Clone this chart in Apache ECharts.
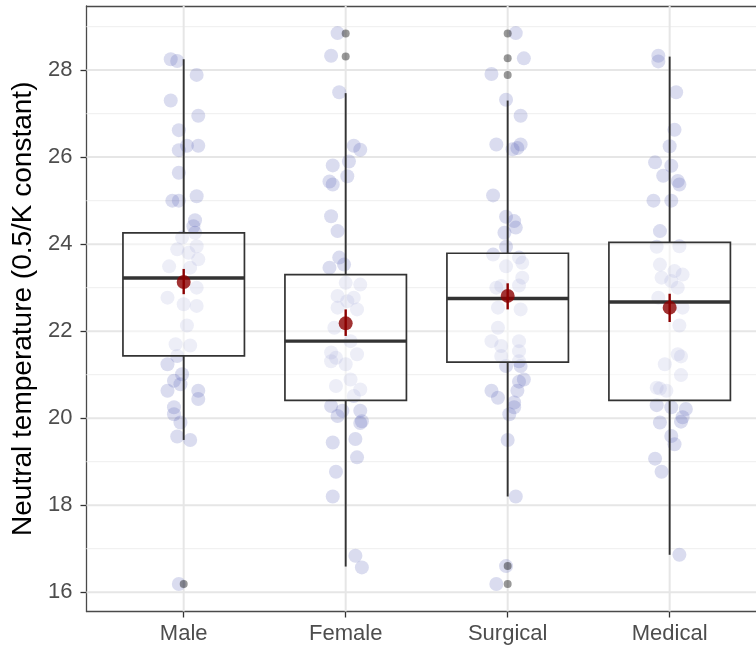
<!DOCTYPE html>
<html>
<head>
<meta charset="utf-8">
<title>Neutral temperature by group</title>
<script src="https://cdn.jsdelivr.net/npm/echarts@6/dist/echarts.min.js"></script>
<style>
  html, body { margin: 0; padding: 0; background: #ffffff; }
  #chart { width: 756px; height: 652px; }
</style>
</head>
<body>
<div id="chart"></div>
<script>
// Groups along the x axis
const categories = ['Male', 'Female', 'Surgical', 'Medical'];
const yTicks = [16, 18, 20, 22, 24, 26, 28];
const yMinorTicks = [17, 19, 21, 23, 25, 27, 29];

// Box-and-whisker summaries per group
const whiskerLow  = [19.50, 16.59, 18.20, 16.86];
const q1          = [21.43, 20.41, 21.29, 20.41];
const medians     = [23.22, 21.77, 22.75, 22.67];
const q3          = [24.26, 23.30, 23.79, 24.04];
const whiskerHigh = [28.25, 27.47, 27.30, 28.31];

// Group means with their error bars
const means    = [23.13, 22.18, 22.81, 22.54];
const meanLow  = [22.85, 21.89, 22.50, 22.21];
const meanHigh = [23.43, 22.50, 23.10, 22.86];

// Points beyond the whiskers: [group index, value]
const outliers = [
  [0, 16.19],
  [1, 28.31], [1, 28.84],
  [2, 28.84], [2, 28.27], [2, 27.89], [2, 16.60], [2, 16.19]
];

// Individual observations and their horizontal jitter (in group units)
const maleValues = [28.25, 28.21, 27.89, 27.30, 26.95, 26.62, 26.26, 26.26, 26.16, 25.64, 25.00, 25.00, 25.10,
  24.55, 24.41, 24.26, 24.15, 23.95, 23.88, 23.80, 23.65, 23.49, 23.46, 23.00, 22.77, 22.62, 22.58, 22.13,
  21.70, 21.67, 21.43, 21.24, 21.01, 20.86, 20.78, 20.63, 20.63, 20.44, 20.25, 20.09, 19.90, 19.58, 19.50, 16.19];
const maleJitter = [-0.08, -0.04, 0.08, -0.08, 0.09, -0.03, 0.02, 0.09, -0.03, -0.03, -0.07, -0.03, 0.08,
  0.07, 0.06, 0.07, -0.01, 0.08, -0.04, 0.03, 0.09, -0.09, 0.04, 0.08, -0.10, 0.00, 0.08, 0.02,
  -0.05, 0.04, -0.04, -0.10, -0.01, -0.06, -0.02, -0.10, 0.09, 0.09, -0.06, -0.06, -0.02, -0.04, 0.04, -0.03];

const femaleValues = [28.85, 28.33, 27.49, 26.26, 26.17, 25.90, 25.81, 25.56, 25.44, 25.37, 24.64, 24.30,
  23.69, 23.53, 23.46, 23.11, 23.07, 22.81, 22.77, 22.69, 22.54, 22.50, 22.08, 21.77, 21.51, 21.47, 21.39,
  21.31, 21.24, 20.89, 20.74, 20.66, 20.51, 20.28, 20.17, 20.17, 20.05, 19.93, 19.89, 19.52, 19.44, 19.10,
  18.77, 18.20, 16.84, 16.57];
const femaleJitter = [-0.05, -0.09, -0.04, 0.05, 0.09, 0.02, -0.08, 0.01, -0.10, -0.08, -0.09, -0.05,
  -0.04, -0.01, -0.10, 0.00, 0.09, -0.05, 0.05, 0.01, -0.05, 0.07, -0.07, 0.03, -0.09, 0.07, -0.06,
  -0.09, 0.00, 0.03, -0.06, 0.09, 0.05, -0.09, -0.02, 0.09, -0.05, 0.10, 0.09, 0.06, -0.08, 0.07,
  -0.06, -0.08, 0.06, 0.10];

const surgicalValues = [28.85, 28.27, 27.91, 27.32, 26.95, 26.29, 26.29, 26.21, 26.18, 25.12, 24.63, 24.53,
  24.38, 24.26, 23.94, 23.76, 23.69, 23.57, 23.49, 23.23, 23.04, 23.05, 23.00, 22.54, 22.50, 22.08, 21.77,
  21.77, 21.66, 21.54, 21.43, 21.31, 21.20, 21.20, 20.89, 20.84, 20.63, 20.63, 20.47, 20.36, 20.25, 20.09,
  19.50, 18.20, 16.60, 16.19];
const surgicalJitter = [0.05, 0.10, -0.10, -0.01, 0.08, -0.07, 0.08, 0.06, 0.03, -0.09, -0.01, 0.04,
  0.05, -0.02, -0.01, -0.09, 0.07, 0.09, -0.01, 0.09, -0.04, 0.07, -0.07, -0.06, 0.08, -0.06, -0.10,
  0.07, -0.04, 0.07, -0.04, 0.07, -0.01, 0.08, 0.10, 0.07, -0.10, 0.06, -0.06, 0.04, 0.04, 0.01,
  0.00, 0.05, -0.01, -0.07];

const medicalValues = [28.33, 28.20, 27.49, 26.63, 26.25, 25.88, 25.80, 25.57, 25.45, 25.37, 25.00, 25.00,
  24.30, 23.94, 23.95, 23.53, 23.38, 23.30, 23.23, 23.15, 23.00, 22.77, 22.54, 22.13, 21.47, 21.42, 21.24,
  20.99, 20.70, 20.68, 20.63, 20.30, 20.25, 20.21, 20.02, 19.92, 19.90, 19.59, 19.40, 19.07, 18.77, 16.86];
const medicalJitter = [-0.07, -0.07, 0.04, 0.03, 0.00, -0.09, 0.01, -0.04, 0.05, 0.06, -0.10, 0.01,
  -0.06, -0.08, 0.06, -0.06, 0.03, 0.08, -0.05, 0.01, 0.05, -0.07, 0.08, 0.06, 0.05, 0.07, -0.03,
  0.07, -0.08, -0.06, -0.02, -0.08, 0.01, 0.10, 0.08, 0.07, -0.06, 0.01, 0.03, -0.09, -0.05, 0.06];

// ---- build series data ----
const groupValues = [maleValues, femaleValues, surgicalValues, medicalValues];
const groupJitter = [maleJitter, femaleJitter, surgicalJitter, medicalJitter];
const jitterPoints = [];
groupValues.forEach((vals, g) => {
  vals.forEach((v, k) => jitterPoints.push([g + 1 + groupJitter[g][k], v]));
});
const boxData = categories.map((c, i) => [i + 1, whiskerLow[i], q1[i], medians[i], q3[i], whiskerHigh[i]]);
const meanData = categories.map((c, i) => [i + 1, means[i]]);
const errData = categories.map((c, i) => [i + 1, meanLow[i], meanHigh[i]]);
const outlierData = outliers.map(o => [o[0] + 1, o[1]]);

// grid lines: [x, y, vertical?, major?]
const gridLines = [
  ...yMinorTicks.map(v => [1, v, 0, 0]),
  ...yTicks.map(v => [1, v, 0, 1]),
  ...categories.map((c, i) => [i + 1, 22, 1, 1])
];

const X_MIN = 0.4, X_MAX = 4.533;
const BOX_HALF = 0.375;
const FONT = '"Liberation Sans", Arial, Helvetica, sans-serif';
const INK = '#333333';
const FRAME = { color: '#4a4a4a', width: 1.3 };

const chart = echarts.init(document.getElementById('chart'), null, { renderer: 'canvas' });

chart.setOption({
  animation: false,
  backgroundColor: '#ffffff',
  textStyle: { fontFamily: FONT },
  grid: {
    left: 86.5, right: 0, top: 6, bottom: 40.5,
    show: true, borderWidth: 0, backgroundColor: '#ffffff',
    containLabel: false
  },
  xAxis: [
    {
      type: 'value', min: X_MIN, max: X_MAX, position: 'bottom',
      axisLine: { show: true, lineStyle: FRAME },
      axisTick: { show: true, customValues: [1, 2, 3, 4], length: 6, lineStyle: { color: INK, width: 1.3 } },
      axisLabel: {
        customValues: [1, 2, 3, 4], margin: 11, color: '#4d4d4d', fontSize: 22, fontFamily: FONT,
        formatter: v => categories[Math.round(v) - 1] || ''
      },
      splitLine: { show: false }
    },
    {
      // top edge of the panel
      type: 'value', min: X_MIN, max: X_MAX, position: 'top',
      axisLine: { show: true, lineStyle: FRAME },
      axisTick: { show: false }, axisLabel: { show: false }, splitLine: { show: false }
    }
  ],
  yAxis: {
    type: 'value', min: 15.557, max: 29.473,
    name: 'Neutral temperature (0.5/K constant)',
    nameLocation: 'middle', nameGap: 42,
    nameTextStyle: { color: '#000000', fontSize: 28, fontFamily: FONT },
    axisLine: { show: true, lineStyle: FRAME },
    axisTick: { show: true, customValues: yTicks, length: 6, lineStyle: { color: INK, width: 1.3 } },
    axisLabel: { customValues: yTicks, margin: 14, color: '#4d4d4d', fontSize: 22, fontFamily: FONT },
    splitLine: { show: false }
  },
  series: [
    {
      // panel grid lines
      type: 'custom', data: gridLines, z: 1, silent: true,
      encode: { x: 0, y: 1 },
      renderItem: function (params, api) {
        const cs = params.coordSys;
        const p = api.coord([api.value(0), api.value(1)]);
        const vertical = api.value(2) === 1;
        const major = api.value(3) === 1;
        const style = { stroke: major ? '#e6e6e6' : '#f1f1f1', lineWidth: major ? 2 : 1.2 };
        return vertical
          ? { type: 'line', shape: { x1: p[0], y1: cs.y, x2: p[0], y2: cs.y + cs.height }, style }
          : { type: 'line', shape: { x1: cs.x, y1: p[1], x2: cs.x + cs.width, y2: p[1] }, style };
      }
    },
    {
      // individual observations
      type: 'scatter', data: jitterPoints, symbol: 'circle', symbolSize: 14, z: 2, silent: true,
      itemStyle: { color: 'rgba(70, 80, 175, 0.25)', borderWidth: 0 }
    },
    {
      // boxes and whiskers
      type: 'custom', data: boxData, z: 3, silent: true,
      encode: { x: 0, y: [1, 2, 3, 4, 5] },
      renderItem: function (params, api) {
        const x = api.value(0);
        const lo = api.coord([x, api.value(1)]);
        const b = api.coord([x, api.value(2)]);
        const m = api.coord([x, api.value(3)]);
        const t = api.coord([x, api.value(4)]);
        const hi = api.coord([x, api.value(5)]);
        const left = api.coord([x - BOX_HALF, api.value(3)])[0];
        const right = api.coord([x + BOX_HALF, api.value(3)])[0];
        const ws = { stroke: INK, lineWidth: 1.9 };
        return {
          type: 'group',
          children: [
            { type: 'line', shape: { x1: lo[0], y1: lo[1], x2: b[0], y2: b[1] }, style: ws },
            { type: 'line', shape: { x1: t[0], y1: t[1], x2: hi[0], y2: hi[1] }, style: ws },
            { type: 'rect', shape: { x: left, y: t[1], width: right - left, height: b[1] - t[1] },
              style: { fill: 'rgba(255,255,255,0.5)', stroke: INK, lineWidth: 1.7 } },
            { type: 'line', shape: { x1: left, y1: m[1], x2: right, y2: m[1] },
              style: { stroke: INK, lineWidth: 3.4 } }
          ]
        };
      }
    },
    {
      // outliers
      type: 'scatter', data: outlierData, symbol: 'circle', symbolSize: 8, z: 4, silent: true,
      itemStyle: { color: 'rgba(0,0,0,0.5)', borderWidth: 0 }
    },
    {
      // error bars around the means
      type: 'custom', data: errData, z: 5, silent: true,
      encode: { x: 0, y: [1, 2] },
      renderItem: function (params, api) {
        const x = api.value(0);
        const a = api.coord([x, api.value(1)]);
        const c = api.coord([x, api.value(2)]);
        return { type: 'line', shape: { x1: a[0], y1: a[1], x2: c[0], y2: c[1] },
                 style: { stroke: '#8b0000', lineWidth: 2.4 } };
      }
    },
    {
      // group means
      type: 'scatter', data: meanData, symbol: 'circle', symbolSize: 14, z: 6, silent: true,
      itemStyle: { color: '#8b0000', borderWidth: 0 }
    }
  ]
});
</script>
</body>
</html>
